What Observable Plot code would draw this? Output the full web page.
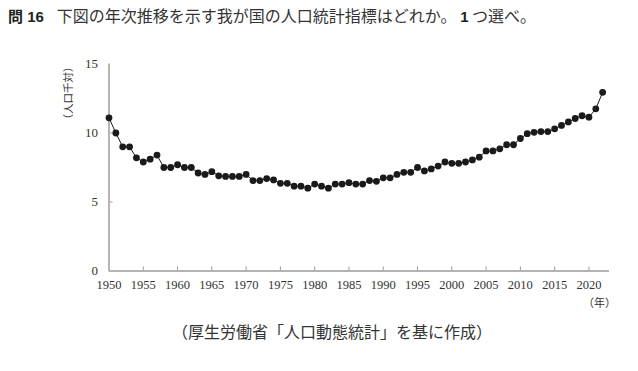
<!DOCTYPE html>
<html><head><meta charset="utf-8">
<script src="https://cdn.jsdelivr.net/npm/d3@7"></script>
<script src="https://cdn.jsdelivr.net/npm/@observablehq/plot@0.6"></script>
<style>
body{margin:0;background:#fff;}
#wrap{position:relative;width:638px;height:371px;overflow:hidden;font-family:"Noto Sans CJK JP",sans-serif;color:#222;}
#title{position:absolute;left:8px;top:3px;font-size:16px;white-space:nowrap;color:#333;}
#title b{font-family:"Liberation Sans","Noto Sans CJK JP",sans-serif;font-weight:bold;font-size:15px;color:#222;}
#title .q{margin-right:13px;}
#ylab{position:absolute;left:67px;top:93px;font-size:10.5px;transform:translate(-50%,-50%) rotate(-90deg);white-space:nowrap;color:#333;}
#xunit{position:absolute;left:583px;top:294px;font-size:11px;color:#333;}
#cap{position:absolute;left:332px;top:319px;transform:translateX(-50%);font-size:16px;white-space:nowrap;color:#333;}
#chart{position:absolute;left:0;top:0;}
</style></head>
<body>
<div id="wrap">
<div id="chart"></div>
<div id="title"><b class="q">問 16</b>下図の年次推移を示す我が国の人口統計指標はどれか。 <b>1</b> つ選べ。</div>
<div id="ylab">（人口千対）</div>
<div id="xunit">（年）</div>
<div id="cap">（厚生労働省「人口動態統計」を基に作成）</div>
</div>
<script>
const years = d3.range(1950, 2023);
const rates = [
 11.1, 10.0, 9.0, 9.0, 8.2, 7.9, 8.1, 8.4, 7.5, 7.5,
 7.7, 7.5, 7.5, 7.1, 7.0, 7.2, 6.9, 6.85, 6.85, 6.85,
 7.0, 6.55, 6.55, 6.7, 6.6, 6.35, 6.35, 6.15, 6.15, 6.0,
 6.3, 6.15, 6.0, 6.3, 6.3, 6.4, 6.3, 6.3, 6.55, 6.5,
 6.75, 6.75, 7.0, 7.15, 7.15, 7.5, 7.25, 7.4, 7.6, 7.9,
 7.8, 7.8, 7.9, 8.05, 8.25, 8.7, 8.7, 8.85, 9.15, 9.15,
 9.6, 9.95, 10.05, 10.1, 10.1, 10.3, 10.55, 10.8, 11.05, 11.25,
 11.15, 11.75, 12.95
];
const xTicks = [1950,1955,1960,1965,1970,1975,1980,1985,1990,1995,2000,2005,2010,2015,2020];
const yTicks = [0,5,10,15];
const data = years.map((y,i)=>({year:y, rate:rates[i]}));

const axisGray = "#b4b4b4";
const chart = Plot.plot({
  width: 638, height: 371,
  marginLeft: 108.5, marginRight: 29, marginTop: 63.5, marginBottom: 100.5,
  style: {fontFamily: "'Liberation Serif', serif", color: "#333", background: "transparent"},
  x: {domain: [1950, 2023]},
  y: {domain: [0, 15]},
  marks: [
    Plot.axisX({ticks: xTicks, tickSize: 0, tickPadding: 9, tickFormat: d => String(d), fontSize: 12.5, label: null}),
    Plot.axisX({ticks: xTicks.slice(1), tickSize: -4, tickFormat: () => "", stroke: "#999", label: null}),
    Plot.axisY({ticks: yTicks, tickSize: 0, tickPadding: 11, fontSize: 13, label: null}),
    Plot.axisY({ticks: [5, 10], tickSize: -4, tickFormat: () => "", stroke: "#999", label: null}),
    Plot.ruleX([1950], {y1: 0, y2: 15, stroke: axisGray, strokeWidth: 2}),
    Plot.ruleY([0], {stroke: axisGray, strokeWidth: 2}),
    Plot.line(data, {x: "year", y: "rate", stroke: "#1a1a1a", strokeWidth: 1}),
    Plot.dot(data, {x: "year", y: "rate", r: 3.4, fill: "#1a1a1a", stroke: "none"})
  ]
});
document.getElementById("chart").appendChild(chart);
</script>
</body></html>
